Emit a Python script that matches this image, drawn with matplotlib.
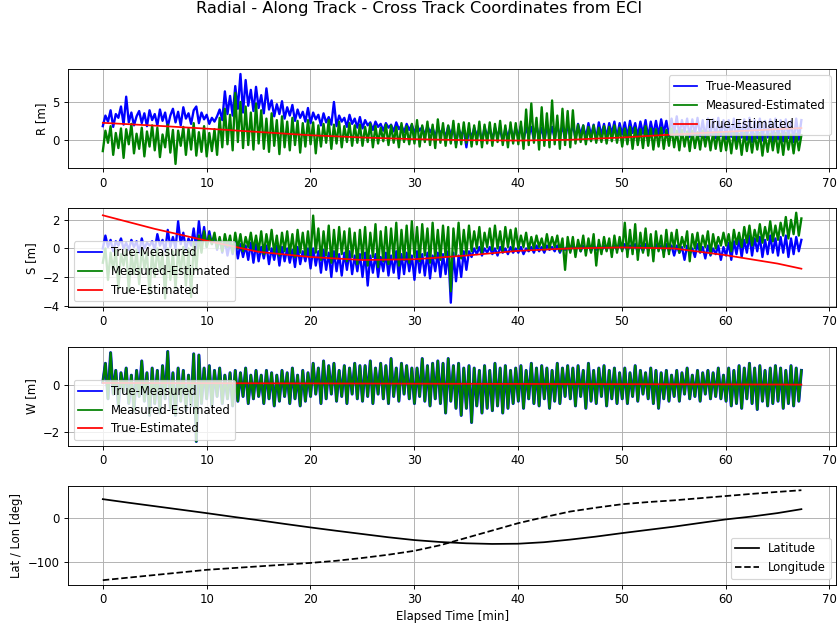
import numpy as np
import matplotlib
matplotlib.use("Agg")
import matplotlib.pyplot as plt

# --- smooth curves, read every 5 min ---
t_knots = [0, 5, 10, 15, 20, 25, 30, 35, 40, 45, 50, 55, 60, 65, 67.3]
r_true_est = [2.24, 1.87, 1.47, 1.03, 0.6, 0.3, 0.08, -0.05, -0.1, 0.0, 0.3, 0.7, 1.05, 1.4, 1.55]
s_true_est = [2.32, 1.37, 0.54, -0.24, -0.6, -0.81, -0.76, -0.5, -0.17, 0.0, 0.07, 0.0, -0.47, -1.06, -1.42]
w_true_est = [0.07, 0.065, 0.06, 0.055, 0.05, 0.045, 0.04, 0.035, 0.03, 0.025, 0.02, 0.015, 0.01, 0.005, 0.0]

# --- ground track, read every 2.5 min ---
t_geo = [0, 2.5, 5, 7.5, 10, 12.5, 15, 17.5, 20, 22.5, 25, 27.5, 30, 32.5,
         35, 37.5, 40, 42.5, 45, 47.5, 50, 52.5, 55, 57.5, 60, 62.5, 65, 67.3]
latitude = [44.8, 36.5, 28.5, 20.5, 12.4, 4, -4, -12.5, -20.7, -28.5, -36, -43.5, -50, -54.5,
            -57.5, -59, -58.5, -55, -49, -42, -34, -26.5, -19, -10.5, -2.2, 4.5, 12.5, 21.6]
longitude = [-143, -137, -131, -125, -119, -115, -111, -107, -103, -98, -91.5, -84, -75, -62,
             -45, -28, -11, 3, 16, 25, 33, 38, 42, 47, 52, 57, 61.6, 65.5]

# --- noisy residuals (~0.25 min apart, 5 min per row) ---
r_true_meas = [
    1.8, 3.2, 2.4, 3.9, 1.7, 3.4, 2.9, 4.4, 2.0, 5.7, 2.3, 3.6, 1.9, 3.1, 3.8, 2.2, 3.5, 1.8, 3.9, 2.6,
    3.4, 1.9, 4.0, 2.5, 3.6, 1.7, 3.2, 4.1, 2.3, 3.7, 1.9, 4.3, 2.8, 3.5, 2.1, 3.9, 4.4, 2.2, 3.6, 2.7,
    3.3, 2.1, 2.9, 2.4, 3.1, 4.0, 2.6, 6.4, 3.4, 5.8, 3.2, 7.1, 4.1, 8.7, 3.6, 7.9, 4.5, 6.6, 3.8, 7.0,
    4.2, 5.9, 3.5, 6.8, 4.0, 5.2, 3.1, 4.7, 3.4, 5.1, 2.8, 4.3, 3.2, 4.6, 2.5, 4.0, 2.9, 3.7, 2.4, 4.2,
    2.2, 3.6, 2.7, 3.3, 1.9, 3.5, 2.3, 3.0, 2.0, 5.0, 1.8, 3.2, 2.4, 2.9, 1.7, 3.3, 2.1, 2.8, 1.6, 3.0,
    1.5, 2.6, 1.9, 2.3, 1.3, 2.4, 1.7, 2.1, 1.2, 2.2, 1.6, 2.0, 1.1, 2.3, 1.4, 1.9, 1.0, 2.1, 1.3, 2.0,
    0.9, 1.9, 1.2, 1.7, 0.6, 1.8, 1.0, 1.6, 0.4, 1.7, 0.8, 1.5, 0.3, 1.8, 0.7, 1.6, -0.6, 1.5, 0.5, 1.4,
    -1.0, 1.5, 0.2, 1.6, 0.6, 1.4, -0.3, 1.7, 0.4, 1.5, 0.0, 1.6, 0.5, 1.4, -0.2, 1.5, 0.3, 1.7, 0.1, 1.6,
    0.4, 1.8, -0.1, 1.6, 0.5, 1.7, 0.0, 1.9, 0.3, 1.6, -0.2, 1.8, 0.4, 1.7, 0.1, 1.9, 0.5, 1.8, 0.0, 1.9,
    0.6, 2.0, 0.2, 2.1, 0.7, 1.9, 0.3, 2.2, 0.5, 2.0, 0.1, 2.3, 0.6, 2.1, 0.4, 2.2, 0.8, 2.4, 0.3, 2.2,
    0.7, 2.3, 0.4, 2.5, 0.9, 2.2, 0.5, 2.4, 0.8, 2.6, 0.3, 2.4, 0.7, 2.5, 0.6, 2.7, 0.9, 2.5, 0.5, 2.8,
    0.8, 3.1, 0.6, 2.6, 1.0, 2.8, 0.4, 2.7, 0.7, 2.9, 0.5, 2.6, 0.3, 2.8, 0.6, 2.7, 0.2, 2.9, 0.5, 2.6,
    0.1, 2.6, 0.4, 2.8, -0.2, 2.5, 0.3, 2.7, 0.0, 2.9, -0.3, 2.6, 0.2, 2.8, -0.1, 2.5, 0.3, 2.7, -0.4, 2.8,
    0.1, 2.6, -0.2, 2.7, 0.2, 2.5, -0.3, 2.8, 0.0, 2.6,
]
r_meas_est = [
    -1.5, 1.2, -0.4, 1.8, -2.0, 0.9, -1.1, 1.5, -2.4, 1.4, -0.6, 2.1, -1.8, 0.8, -1.2, 1.6, -2.2, 1.1, -0.9, 1.9,
    -1.4, 1.6, -2.3, 0.7, -1.0, 2.0, -1.7, 1.3, -3.2, 1.2, -0.8, 1.7, -2.0, 1.5, -1.3, 2.2, -2.1, 1.0, -1.6, 1.8,
    -2.2, 0.9, -1.5, 1.4, -2.0, 2.9, -1.0, 4.1, -0.6, 3.3, -1.4, 6.2, -0.3, 5.0, -1.1, 4.4, -0.7, 3.6, -1.3, 4.8,
    -0.5, 3.9, -1.2, 2.8, -1.6, 3.5, -0.8, 2.6, -1.9, 3.1, -1.0, 2.4, -1.4, 2.9, -0.7, 2.5, -1.7, 2.2, -0.9, 2.6,
    -0.6, 2.3, -1.8, 1.9, -0.9, 2.1, -0.4, 2.6, -1.2, 2.0, -0.5, 2.4, -1.0, 1.8, -0.3, 2.2, -0.8, 1.9, -0.4, 2.0,
    -0.8, 1.7, -0.3, 2.1, -1.0, 1.8, -0.5, 1.6, -0.2, 2.0, -0.7, 1.9, -0.4, 1.7, -1.0, 2.2, -0.3, 1.8, -0.6, 2.1,
    -0.5, 2.6, -0.9, 1.9, -0.3, 2.4, -0.7, 2.0, -1.1, 2.7, -0.4, 2.2, -0.8, 1.9, -0.5, 2.5, -1.0, 2.1, -0.6, 2.3,
    -0.4, 2.2, -0.9, 1.9, -0.6, 2.4, -1.0, 2.0, -0.5, 2.3, -0.8, 2.1, -0.3, 2.5, -0.7, 1.9, -1.0, 2.3, -0.5, 2.2,
    -0.6, 2.4, -1.2, 4.0, -0.7, 4.8, -0.4, 2.9, -1.3, 4.3, -0.8, 3.5, -1.0, 5.2, -0.6, 3.2, -1.2, 4.1, -0.7, 3.8,
    -1.0, 3.9, -0.5, 2.0, -0.3, 1.9, -0.6, 1.7, -0.2, 1.9, -0.4, 1.6, -0.3, 1.8, -0.5, 1.7, -0.2, 1.9, -0.4, 1.6,
    -0.9, 1.5, -0.6, 1.7, -1.2, 1.6, -0.7, 1.4, -1.1, 1.8, -0.8, 1.5, -1.3, 1.4, -0.9, 1.6, -1.2, 1.3, -0.8, 1.5,
    -1.0, 1.2, -1.4, 1.3, -0.9, 1.1, -1.5, 1.2, -1.1, 1.0, -1.3, 1.2, -0.9, 1.1, -1.4, 1.0, -1.2, 1.1, -1.5, 0.9,
    -1.4, 0.9, -1.8, 1.0, -1.2, 0.8, -2.0, 0.9, -1.5, 0.7, -1.7, 0.8, -1.3, 0.9, -2.1, 0.7, -1.6, 0.8, -1.4, 0.9,
    -1.7, 0.8, -2.0, 0.9, -1.3, 0.7, -1.8, 0.8, -1.4, 0.6,
]
s_true_meas = [
    0.0, 0.9, 0.1, 0.6, -0.2, 0.5, 0.2, 0.7, 0.0, 0.4, -0.1, 0.6, 0.1, 0.5, -0.3, 0.7, 0.0, 0.4, 0.2, 0.5,
    -0.1, 1.0, 0.2, 0.6, -0.2, 1.3, 0.1, 0.8, 0.0, 1.9, 0.3, 1.1, -0.1, 0.7, 0.2, 1.4, 0.0, 1.9, 0.3, 1.5,
    0.1, 1.2, 0.3, 0.9, -0.1, 0.7, -0.3, 0.6, -0.5, 0.4, -0.4, 0.5, -0.7, 0.3, -0.6, 0.2, -0.8, 0.4, -1.0, 0.3,
    -0.9, 0.1, -0.7, 0.2, -1.1, 0.0, -0.8, 0.2, -1.2, 0.1, -0.9, 0.0, -1.0, -0.1, -1.3, 0.1, -1.1, -0.2, -0.9, 0.0,
    -1.4, 0.0, -1.2, -0.2, -1.7, -0.1, -1.5, -0.3, -2.0, -0.2, -1.6, -0.4, -1.9, -0.3, -1.5, -0.2, -1.8, -0.5, -1.6, -0.4,
    -2.0, -0.3, -2.6, -0.5, -1.7, -0.4, -2.0, -0.6, -1.6, -0.3, -1.9, -0.5, -1.7, -0.2, -2.1, -0.4, -1.8, -0.3, -1.6, -0.5,
    -2.2, -0.2, -1.7, -0.4, -1.9, -0.3, -2.1, -0.5, -1.6, -0.3, -2.0, -0.4, -1.8, -0.2, -3.8, -0.3, -2.3, -0.5, -2.0, -0.2,
    -1.5, -0.2, -0.6, 0.0, -0.4, 0.1, -0.5, 0.0, -0.3, 0.1, -0.4, 0.0, -0.5, 0.1, -0.3, 0.0, -0.4, 0.1, -0.3, 0.0,
    -0.3, 0.1, -0.4, 0.0, -0.2, 0.1, -0.3, 0.2, -0.2, 0.1, -0.3, 0.2, -0.1, 0.1, -0.2, 0.2, -0.3, 0.1, -0.1, 0.2,
    -0.2, 0.2, -0.1, 0.3, -0.2, 0.2, -0.1, 0.3, -0.2, 0.2, -0.1, 0.3, -0.2, 0.2, -0.1, 0.3, -0.2, 0.2, -0.1, 0.3,
    -0.1, 0.3, -0.2, 0.2, -0.1, 0.3, -0.3, 0.2, -0.2, 0.3, -0.1, 0.2, -0.2, 0.3, -0.1, 0.2, -0.3, 0.3, -0.2, 0.2,
    -0.5, 0.2, -0.3, 0.1, -0.8, 0.2, -0.4, 0.0, -0.6, 0.3, -0.3, 0.1, -0.7, 0.2, -0.5, 0.0, -0.4, 0.2, -0.8, 0.1,
    -0.5, 0.4, -0.8, 0.5, -0.4, 0.7, -0.6, 0.6, -0.3, 0.9, -0.5, 0.7, -0.2, 0.8, -0.6, 0.6, -0.4, 0.9, -0.3, 0.7,
    -0.5, 0.8, -0.3, 0.9, -0.6, 0.7, -0.4, 0.8, -0.2, 0.6,
]
s_meas_est = [
    -1.0, 0.0, -2.2, -0.3, -1.5, -0.1, -2.8, -0.4, -1.2, 0.0, -3.0, -0.2, -1.8, -0.1, -2.5, 0.0, -1.4, -0.3, -3.2, -0.1,
    -2.0, 0.0, -1.6, -0.3, -3.5, 0.0, -2.2, -0.2, -2.8, -0.1, -1.7, 0.1, -2.6, 0.0, -3.4, 0.4, -1.5, 0.9, -0.3, 1.2,
    0.1, 0.9, 0.3, 1.1, 0.0, 0.8, -0.2, 1.0, 0.1, 0.9, -0.3, 1.1, 0.0, 1.0, -0.2, 0.8, 0.1, 1.1, -0.1, 0.9,
    -0.2, 1.2, -0.4, 1.0, -0.1, 1.3, -0.3, 0.9, -0.5, 1.1, -0.2, 1.2, -0.4, 1.0, -0.6, 1.3, -0.3, 1.1, -0.5, 1.2,
    -0.6, 2.3, -0.3, 1.4, -0.8, 1.2, -0.5, 1.6, -1.0, 1.3, -0.7, 1.5, -0.4, 1.2, -0.9, 1.4, -0.6, 1.1, -1.1, 1.3,
    -0.7, 1.5, -1.2, 1.1, -0.6, 1.7, -1.3, 1.2, -0.9, 1.5, -1.1, 1.4, -0.7, 1.8, -1.2, 1.3, -0.8, 1.6, -1.0, 1.9,
    -0.6, 1.5, -0.9, 1.7, -0.5, 1.4, -1.0, 1.8, -0.7, 1.3, -0.8, 1.6, -0.6, 1.5, -3.0, 1.4, -0.5, 1.8, -0.7, 1.3,
    -0.4, 1.6, -0.2, 1.2, 0.0, 1.5, -0.3, 1.1, 0.1, 1.4, -0.1, 1.6, 0.0, 1.2, -0.2, 1.5, 0.1, 1.3, -0.1, 1.4,
    0.0, 0.9, 0.1, 1.1, -0.1, 0.8, 0.0, 0.9, 0.1, 0.7, -0.1, 1.0, 0.0, 0.8, 0.1, 0.9, -0.2, 0.7, -1.5, 0.8,
    -0.3, 0.8, -0.6, 0.6, -0.2, 0.9, -0.5, 0.7, -0.3, 1.0, -1.2, 0.6, -0.4, 0.8, -0.2, 0.7, -0.6, 0.9, -0.3, 0.8,
    -0.2, 1.8, -0.6, 1.3, -0.4, 1.7, -0.8, 1.1, -0.3, 1.4, -0.5, 1.0, -0.9, 1.2, -0.2, 0.9, -0.6, 1.3, -0.4, 1.1,
    0.0, 1.3, -0.3, 0.8, 0.1, 1.2, -0.9, 1.0, 0.0, 1.1, -0.2, 0.9, 0.1, 1.2, -0.4, 1.0, 0.0, 0.8, 0.2, 1.1,
    0.2, 1.0, -0.2, 1.3, 0.3, 1.1, 0.1, 1.5, 0.4, 1.6, 0.2, 1.3, 0.5, 1.7, 0.4, 1.5, 0.6, 1.9, 0.5, 1.6,
    0.6, 1.8, 0.9, 2.2, 0.7, 2.0, 1.0, 2.5, 0.9, 2.1,
]
# cross track: both residuals lie on top of each other
w_resid = [
    0.1, 0.9, -0.6, 1.35, -0.4, 0.6, -0.9, 0.5, -0.3, 0.7, -0.8, 0.4, -1.1, 0.6, -0.5, 1.0, -0.7, 0.5, -1.3, 0.7,
    -0.8, 0.6, -1.2, 0.8, -0.6, 1.4, -1.0, 0.5, -1.3, 0.7, -0.7, 0.6, -1.1, 0.4, -0.9, 1.3, -2.4, 1.25, -0.8, 0.7,
    -0.6, 0.8, -0.9, 0.6, -0.5, 0.7, -0.8, 0.4, -0.6, 0.5, -0.9, 0.6, -0.7, 0.5, -0.5, 0.7, -0.8, 0.4, -0.6, 0.6,
    -0.5, 0.4, -0.8, 0.6, -0.6, 0.5, -0.9, 0.4, -0.7, 0.6, -0.5, 0.5, -0.8, 0.7, -0.6, 0.4, -0.9, 0.6, -0.7, 0.5,
    -0.5, 0.9, -0.4, 0.7, -0.8, 1.0, -0.6, 0.8, -0.4, 0.9, -0.7, 0.6, -0.5, 0.8, -0.8, 0.7, -0.4, 0.9, -0.6, 0.8,
    -0.7, 0.8, -0.5, 1.0, -0.8, 0.7, -0.4, 0.9, -0.6, 0.8, -0.8, 1.1, -0.5, 0.7, -0.7, 0.9, -0.4, 0.8, -0.6, 0.7,
    -0.8, 0.7, -0.5, 1.1, -0.7, 0.8, -0.9, 0.9, -0.6, 1.0, -0.8, 0.9, -1.2, 1.1, -0.7, 0.8, -1.0, 0.9, -1.3, 0.7,
    -1.0, 0.8, -1.6, 0.7, -0.9, 0.6, -1.2, 0.8, -1.0, 0.6, -1.1, 0.9, -0.9, 0.7, -1.2, 0.8, -1.0, 0.6, -0.8, 0.7,
    -0.7, 0.8, -1.0, 0.6, -0.6, 0.9, -0.8, 0.7, -0.9, 0.8, -0.6, 0.7, -1.0, 0.6, -0.7, 0.9, -0.8, 0.7, -0.5, 0.8,
    -0.6, 0.7, -0.9, 0.8, -0.5, 0.6, -1.0, 0.9, -0.7, 0.6, -0.8, 0.7, -0.5, 0.8, -0.9, 0.6, -0.6, 0.7, -0.8, 0.5,
    -0.6, 0.7, -0.8, 0.5, -0.5, 0.8, -0.7, 0.6, -0.4, 0.5, -0.6, 0.7, -0.8, 0.6, -1.0, 0.5, -0.6, 0.6, -0.7, 0.4,
    -0.5, 0.6, -0.7, 0.5, -0.4, 0.7, -0.6, 0.4, -0.5, 0.6, -0.7, 0.5, -0.4, 0.6, -0.6, 0.5, -0.5, 0.7, -0.6, 0.4,
    -0.7, 0.7, -0.9, 0.6, -0.8, 0.8, -1.0, 0.7, -0.6, 0.9, -0.8, 0.7, -1.05, 0.8, -0.7, 0.6, -0.9, 0.7, -0.8, 0.8,
    -0.7, 0.7, -1.0, 0.6, -0.8, 0.8, -0.9, 0.7, -0.7, 0.6,
]
t_end = 67.3

t_noise = np.linspace(0, t_end, len(r_true_meas))
NOISE_LW = 2.0


def add_legend(ax, loc):
    leg = ax.legend(loc=loc)
    for line in leg.get_lines():
        line.set_linewidth(1.5)


# drawn as a 10 in wide figure at 83.8 dpi -> 838 x 626 px
fig, axes = plt.subplots(4, 1, figsize=(10, 626 / 83.8), dpi=83.8)
fig.subplots_adjust(left=0.081, right=0.998, top=0.889, bottom=0.066, hspace=0.402)
fig.suptitle("Radial - Along Track - Cross Track Coordinates from ECI", fontsize=14, y=0.999, va='top')

# --- R ---
ax = axes[0]
ax.plot(t_noise, r_true_meas, color='blue', lw=NOISE_LW, label='True-Measured')
ax.plot(t_noise, r_meas_est, color='green', lw=NOISE_LW, label='Measured-Estimated')
ax.plot(t_knots, r_true_est, color='red', label='True-Estimated')
ax.set_ylabel("R [m]")
add_legend(ax, 'upper right')
ax.grid(True)

# --- S ---
ax = axes[1]
ax.plot(t_noise, s_true_meas, color='blue', lw=NOISE_LW, label='True-Measured')
ax.plot(t_noise, s_meas_est, color='green', lw=NOISE_LW, label='Measured-Estimated')
ax.plot(t_knots, s_true_est, color='red', label='True-Estimated')
ax.set_ylabel("S [m]")
add_legend(ax, 'lower left')
ax.grid(True)

# --- W ---
ax = axes[2]
ax.plot(t_noise, w_resid, color='blue', lw=NOISE_LW + 0.6, label='True-Measured')
ax.plot(t_noise, w_resid, color='green', lw=NOISE_LW, label='Measured-Estimated')
ax.plot(t_knots, w_true_est, color='red', label='True-Estimated')
ax.set_ylabel("W [m]")
add_legend(ax, 'lower left')
ax.grid(True)

# --- Lat / Lon ---
ax = axes[3]
ax.plot(t_geo, latitude, 'k-', label='Latitude')
ax.plot(t_geo, longitude, 'k--', label='Longitude')
ax.set_ylabel("Lat / Lon [deg]")
ax.set_xlabel("Elapsed Time [min]")
ax.legend(loc='lower right')
ax.grid(True)

plt.savefig("out.png", dpi=83.8)
